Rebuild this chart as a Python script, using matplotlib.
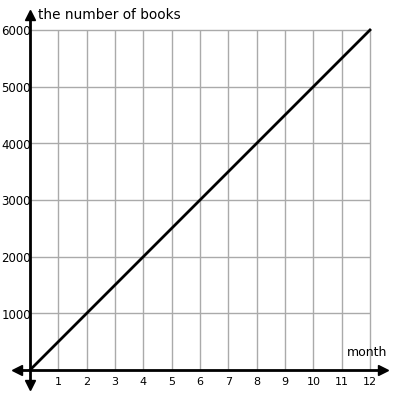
import numpy as np
import matplotlib
matplotlib.use("Agg")
import matplotlib.pyplot as plt

# data
month = [0, 1, 2, 3, 4, 5, 6, 7, 8, 9, 10, 11, 12]
books = [0, 500, 1000, 1500, 2000, 2500, 3000, 3500, 4000, 4500, 5000, 5500, 6000]
x_ticks = [1, 2, 3, 4, 5, 6, 7, 8, 9, 10, 11, 12]
y_ticks = [1000, 2000, 3000, 4000, 5000, 6000]

fig = plt.figure(figsize=(4, 4), dpi=100)
ax = fig.add_axes([0, 0, 1, 1])
# pixel mapping: x=0 -> 30px, 1 month = 28.33px ; y=0 -> 370px, 1000 = 56.67px
ax.set_xlim(-30 / 28.333, 370 / 28.333)
ax.set_ylim(-30 / 0.056667, 370 / 0.056667)
ax.axis("off")

grid_c = "#aaaaaa"
ax.vlines(x_ticks, 0, max(y_ticks), color=grid_c, lw=1, zorder=1)
ax.hlines(y_ticks, 0, max(x_ticks), color=grid_c, lw=1, zorder=1)

# axes with arrows
ax.plot([-0.45, 12.45], [0, 0], color="k", lw=2, zorder=3, solid_capstyle="butt")
ax.plot([0, 0], [-270, 6270], color="k", lw=2, zorder=3, solid_capstyle="butt")
ax.plot([-0.45], [0], marker="<", color="k", ms=6.5, zorder=4)
ax.plot([12.45], [0], marker=">", color="k", ms=6.5, zorder=4)
ax.plot([0], [6270], marker="^", color="k", ms=6.5, zorder=4)
ax.plot([0], [-270], marker="v", color="k", ms=6.5, zorder=4)

ax.plot(month, books, color="k", lw=2, zorder=5)

for m in x_ticks:
    ax.text(m, -210, str(m), ha="center", va="center", fontsize=8)
for v in y_ticks:
    ax.text(0.03, v - 30, str(v), ha="right", va="center", fontsize=8.5)

ax.text(0.28, 6270, "the number of books", ha="left", va="center", fontsize=9.8)
ax.text(12.62, 300, "month", ha="right", va="center", fontsize=9)

fig.savefig("out.png", dpi=100)
